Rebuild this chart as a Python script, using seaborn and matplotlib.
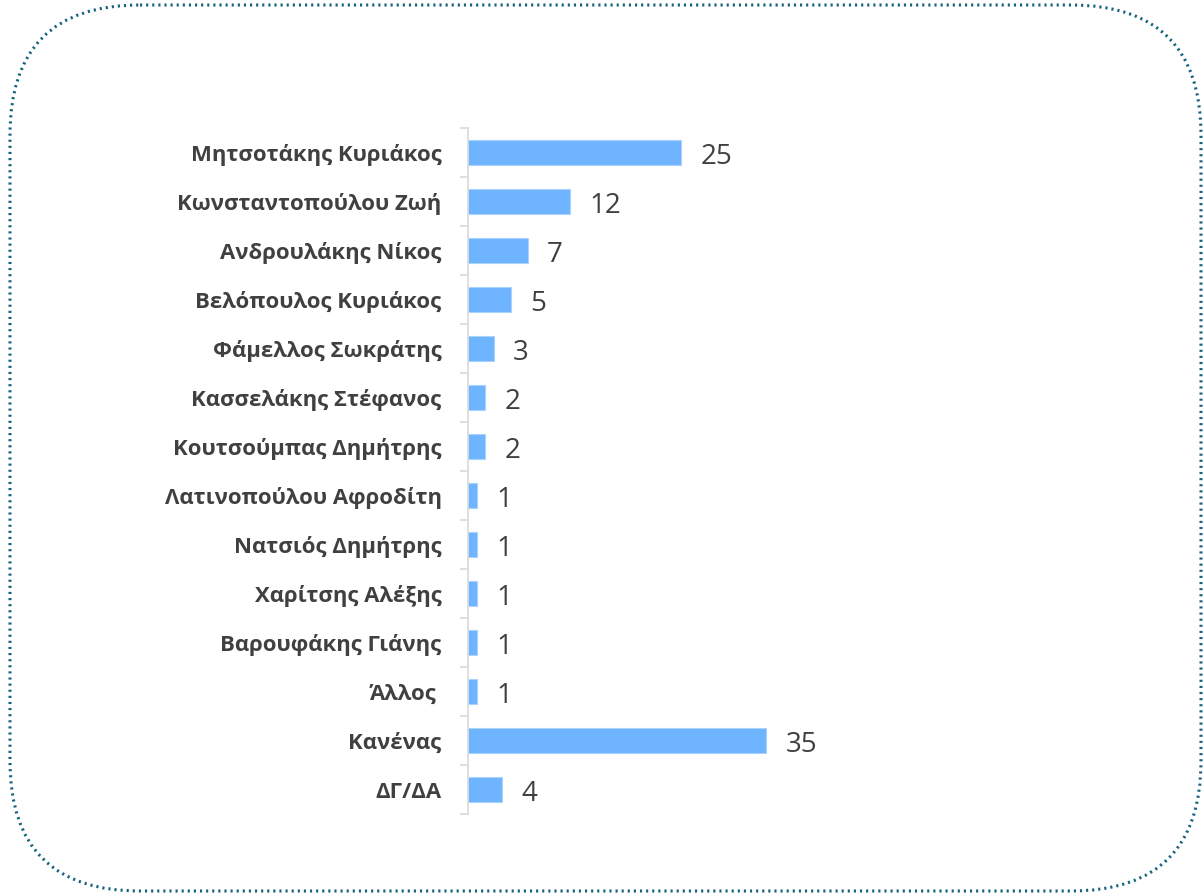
import matplotlib
matplotlib.use("Agg")
import matplotlib.pyplot as plt
from matplotlib.patches import FancyBboxPatch
import seaborn as sns
import pandas as pd

categories = [
    "Μητσοτάκης Κυριάκος",
    "Κωνσταντοπούλου Ζωή",
    "Ανδρουλάκης Νίκος",
    "Βελόπουλος Κυριάκος",
    "Φάμελλος Σωκράτης",
    "Κασσελάκης Στέφανος",
    "Κουτσούμπας Δημήτρης",
    "Λατινοπούλου Αφροδίτη",
    "Νατσιός Δημήτρης",
    "Χαρίτσης Αλέξης",
    "Βαρουφάκης Γιάνης",
    "Άλλος ",
    "Κανένας",
    "ΔΓ/ΔΑ",
]
values = [25, 12, 7, 5, 3, 2, 2, 1, 1, 1, 1, 1, 35, 4]

df = pd.DataFrame({"category": categories, "value": values})

sns.set_theme(style="white")
plt.rcParams["font.family"] = ["Open Sans", "DejaVu Sans"]

W, H = 1204, 894
fig = plt.figure(figsize=(W / 100, H / 100), dpi=100)
fig.patch.set_facecolor("white")

# border overlay in pixel coordinates
bg = fig.add_axes([0, 0, 1, 1], zorder=0)
bg.set_xlim(0, W)
bg.set_ylim(H, 0)
bg.axis("off")
border = FancyBboxPatch((10, 5), 1191, 886, boxstyle="round,pad=0,rounding_size=130",
                        facecolor="none", edgecolor="#16627F", linewidth=2.2,
                        linestyle=(0, (0.7, 1.3)))
bg.add_patch(border)

ax_left, ax_right = 468, 1100
ax_top, ax_bottom = 128, 814
ax = fig.add_axes([ax_left / W, 1 - ax_bottom / H, (ax_right - ax_left) / W,
                   (ax_bottom - ax_top) / H], zorder=1)
ax.patch.set_alpha(0)

sns.barplot(data=df, y="category", x="value", orient="h", color="#6EB4FF",
            width=0.5, edgecolor="#A9D2FF", linewidth=0.8, saturation=1, ax=ax)

ax.set_xlim(0, (ax_right - ax_left) / 8.52)
ax.set_ylim(len(categories) - 0.5, -0.5)
ax.set_xlabel("")
ax.set_ylabel("")
ax.set_xticks([])

for s in ["top", "right", "bottom"]:
    ax.spines[s].set_visible(False)
ax.spines["left"].set_color("#D9D9D9")
ax.spines["left"].set_linewidth(1.2)

ax.tick_params(axis="y", which="major", length=0, pad=19)
ax.set_yticks([i - 0.5 for i in range(len(categories) + 1)], minor=True)
ax.tick_params(axis="y", which="minor", length=6, width=1.2, color="#D9D9D9", left=True)

for lbl in ax.get_yticklabels():
    lbl.set_fontweight("bold")
    lbl.set_fontsize(15.9)
    lbl.set_color("#404040")

texts = ax.bar_label(ax.containers[0], labels=[str(v) for v in values], padding=14,
                     fontsize=20, color="#404040")
for t in texts:
    t.set_va("center")
    t.set_y(-3)

fig.savefig("out.png", dpi=100, facecolor="white")
